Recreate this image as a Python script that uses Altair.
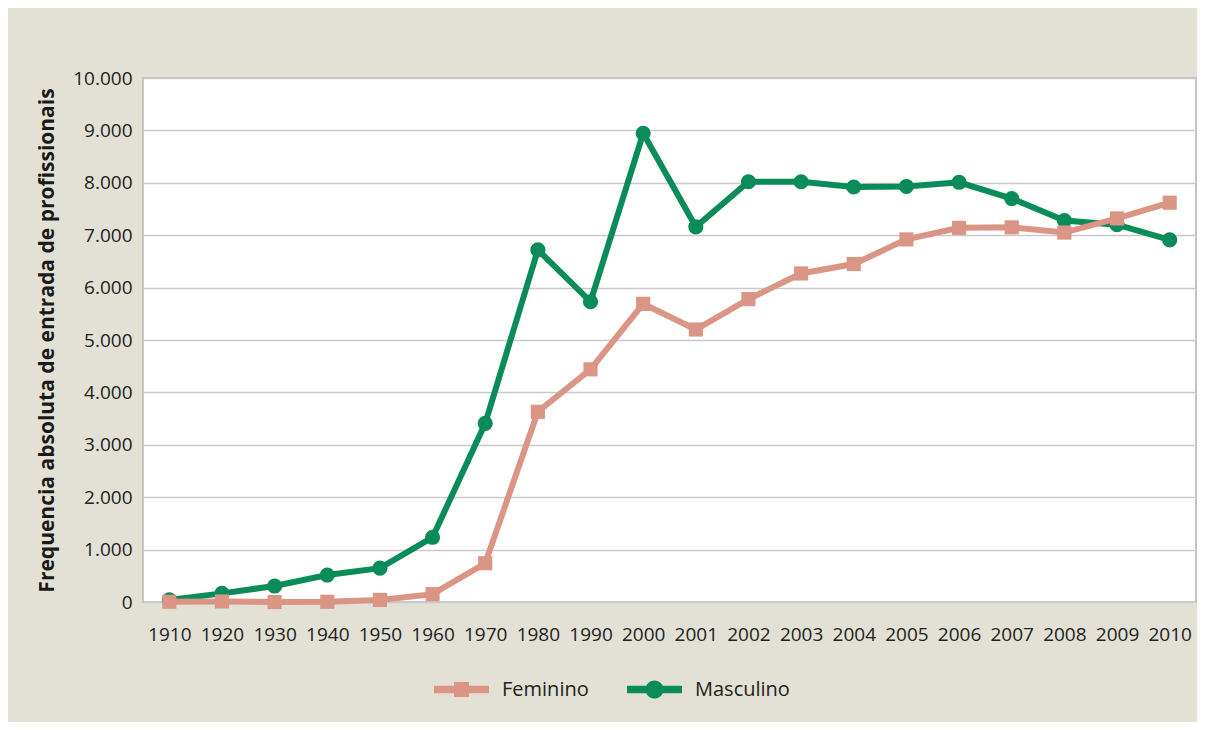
import altair as alt
import pandas as pd

anos = ["1910", "1920", "1930", "1940", "1950", "1960", "1970", "1980", "1990", "2000",
        "2001", "2002", "2003", "2004", "2005", "2006", "2007", "2008", "2009", "2010"]
feminino = [5, 10, 0, 5, 40, 150, 740, 3630, 4440, 5690,
            5200, 5780, 6270, 6450, 6920, 7140, 7150, 7050, 7320, 7620]
masculino = [40, 165, 305, 515, 645, 1235, 3410, 6720, 5730, 8945,
             7160, 8020, 8020, 7920, 7930, 8010, 7700, 7280, 7200, 6910]

series_names = ["Feminino", "Masculino"]
colors = {"Feminino": "#da9584", "Masculino": "#0a8c5a"}

df = pd.DataFrame({
    "Ano": anos * 2,
    "Valor": feminino + masculino,
    "Sexo": ["Feminino"] * len(anos) + ["Masculino"] * len(anos),
})

FONT = "Open Sans"

x_enc = alt.X("Ano:O", sort=anos, scale=alt.Scale(domain=anos, padding=0.5),
              axis=alt.Axis(title=None, labelAngle=0, ticks=False, domain=False, grid=False,
                            labelPadding=23))
y_enc = alt.Y("Valor:Q", scale=alt.Scale(domain=[0, 10000], nice=False),
              axis=alt.Axis(title="Frequencia absoluta de entrada de profissionais",
                            values=list(range(0, 10001, 1000)),
                            labelExpr="replace(format(datum.value, ',d'), ',', '.')",
                            ticks=False, domain=False, grid=True, labelPadding=11,
                            titleX=-96, titleY=262, titleBaseline="middle", titleAngle=270,
                            titleAlign="center"))

SQ_PATH = ("M-1,-0.14L1,-0.14L1,0.14L-1,0.14Z "
           "M-0.27,-0.27L0.27,-0.27L0.27,0.27L-0.27,0.27Z")
CI_PATH = ("M-1,-0.14L1,-0.14L1,0.14L-1,0.14Z "
           "M-0.33,0A0.33,0.33 0 1,1 0.33,0A0.33,0.33 0 1,1 -0.33,0Z")


def series(name, kind, path, lx):
    d = df[df["Sexo"] == name]
    base = alt.Chart(d).encode(x=x_enc, y=y_enc)
    line = base.mark_line(color=colors[name], strokeWidth=6)
    if kind == "square":
        pts = base.mark_square(size=200, opacity=1)
    else:
        pts = base.mark_circle(size=230, opacity=1)
    pts = pts.encode(color=alt.Color(
        "Sexo:N",
        scale=alt.Scale(domain=[name], range=[colors[name]]),
        legend=alt.Legend(title=None, orient="none", legendX=lx, legendY=584,
                          symbolType=path, symbolSize=3025, symbolStrokeWidth=0,
                          labelFont=FONT, labelFontSize=20, labelColor="#222222",
                          labelOffset=13, padding=0)))
    return alt.layer(line, pts)


masc = series("Masculino", "circle", CI_PATH, 484)
fem = series("Feminino", "square", SQ_PATH, 291)

chart = (
    alt.layer(masc, fem)
    .resolve_scale(color="independent")
    .properties(width=1053, height=524, background="#e3e1d6",
                padding={"left": 135, "top": 70, "right": 1, "bottom": 120},
                autosize=alt.AutoSizeParams(type="none"))
    .configure_view(stroke="#b5b5b5", strokeWidth=1.5, fill="white")
    .configure_axis(labelFont=FONT, labelFontSize=19, labelColor="#222222",
                    titleFont=FONT, titleFontSize=21, titleFontWeight="bold",
                    titleColor="#1a1a1a", gridColor="#c9c9c9", gridWidth=1.5)
)

chart.save("out.html", embed_options={"renderer": "svg", "actions": False})
